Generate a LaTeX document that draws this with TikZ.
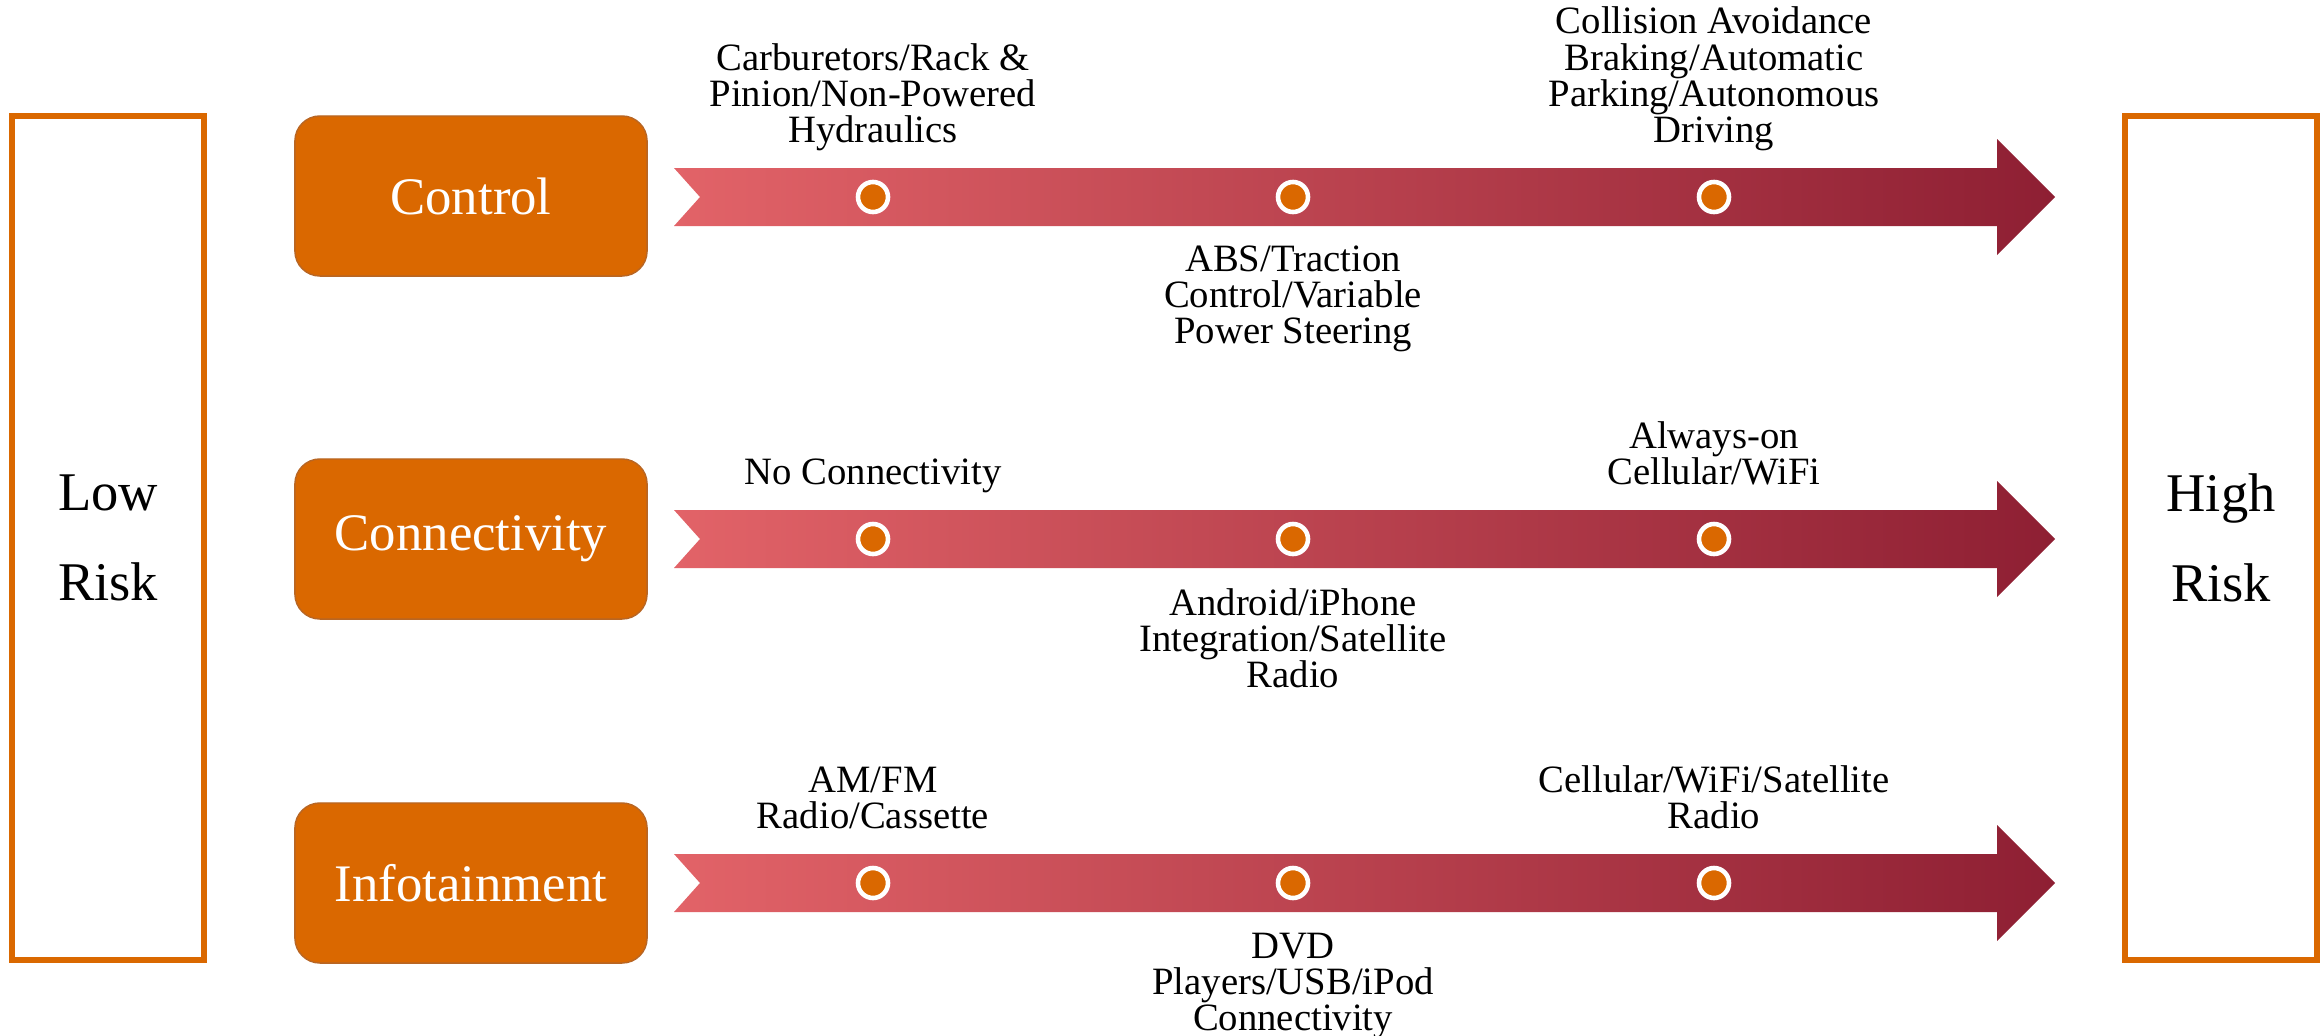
\documentclass[tikz,border=0pt]{standalone}
\usepackage{fontspec}
\setmainfont{Liberation Serif}
\usepackage{xcolor}
\usepackage{tikz}
\usetikzlibrary{shapes}

\definecolor{riskorange}{RGB}{218,104,0}
\definecolor{boxedge}{RGB}{184,102,36}
\definecolor{arrowlight}{RGB}{226,99,104}
\definecolor{arrowdark}{RGB}{142,31,51}

\begin{document}
\begin{tikzpicture}[x=0.01cm,y=-0.01cm,
		riskframe/.style={draw=riskorange,line width=1.7pt,minimum width=1.91cm,
			minimum height=8.44cm,align=center,font=\fontsize{15.5}{25.5}\selectfont},
		catbox/.style={fill=riskorange,draw=boxedge,line width=0.4pt,rounded corners=0.25cm,
			minimum width=3.52cm,minimum height=1.6cm,text=white,font=\fontsize{15}{18}\selectfont},
		stopdot/.style={circle,fill=riskorange,draw=white,line width=1.3pt,
			minimum size=0.3cm,inner sep=0pt},
		toptext/.style={anchor=south,align=center,inner sep=0pt,text depth=2.5pt,
			font=\fontsize{11}{10.3}\selectfont},
		bottext/.style={anchor=north,align=center,inner sep=0pt,
			font=\fontsize{11}{10.3}\selectfont}]
	\useasboundingbox (0,0) rectangle (2323,1036);
	%
	\node[riskframe] (low) at (108,538) {Low\\Risk};
	\node[riskframe] (high) at (2221,538) {High\\Risk};
	%
	\node[catbox] (ctrl) at (471,196) {Control};
	\node[catbox] (conn) at (471,539) {Connectivity};
	\node[catbox] (info) at (471,883) {Infotainment};
	%
	\foreach \y in {197,539,883}
		\shade[left color=arrowlight,right color=arrowdark]
			(674,{\y-29}) -- (1997,{\y-29}) -- (1997,{\y-58}) -- (2055,\y)
			-- (1997,{\y+58}) -- (1997,{\y+29}) -- (674,{\y+29}) -- (700,\y) -- cycle;
	%
	\node[stopdot] (ctrlA) at (873,197) {};
	\node[stopdot] (ctrlB) at (1293,197) {};
	\node[stopdot] (ctrlC) at (1714,197) {};
	\node[stopdot] (connA) at (873,539) {};
	\node[stopdot] (connB) at (1293,539) {};
	\node[stopdot] (connC) at (1714,539) {};
	\node[stopdot] (infoA) at (873,883) {};
	\node[stopdot] (infoB) at (1293,883) {};
	\node[stopdot] (infoC) at (1714,883) {};
	%
	\node[toptext] (ctrlAtext) at (873,152) {Carburetors/Rack \&\\Pinion/Non-Powered\\Hydraulics};
	\node[bottext] (ctrlBtext) at (1293,245) {ABS/Traction\\Control/Variable\\Power Steering};
	\node[toptext] (ctrlCtext) at (1714,152) {Collision Avoidance\\Braking/Automatic\\Parking/Autonomous\\Driving};
	%
	\node[toptext] (connAtext) at (873,494) {No Connectivity};
	\node[bottext] (connBtext) at (1293,588) {Android/iPhone\\Integration/Satellite\\Radio};
	\node[toptext] (connCtext) at (1714,494) {Always-on\\Cellular/WiFi};
	%
	\node[toptext] (infoAtext) at (873,838) {AM/FM\\Radio/Cassette};
	\node[bottext] (infoBtext) at (1293,932) {DVD\\Players/USB/iPod\\Connectivity};
	\node[toptext] (infoCtext) at (1714,838) {Cellular/WiFi/Satellite\\Radio};
\end{tikzpicture}
\end{document}
